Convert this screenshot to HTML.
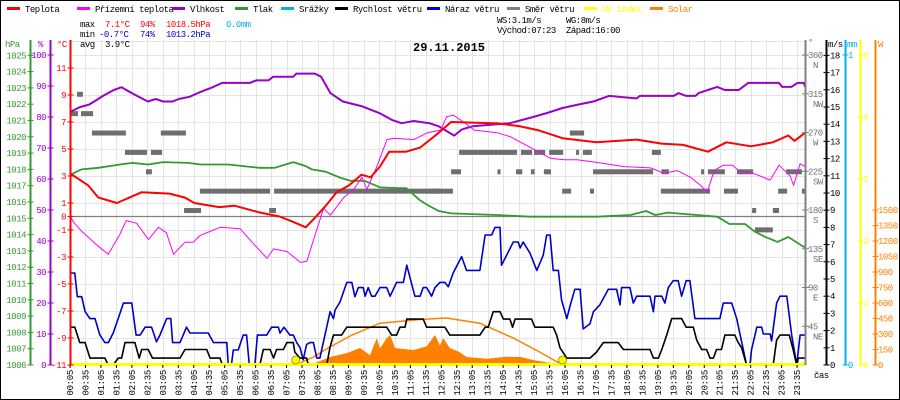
<!DOCTYPE html>
<html><head><meta charset="utf-8"><style>
html,body{margin:0;padding:0;background:#fff;}
svg{display:block;font-family:"Liberation Mono",monospace;}
</style></head><body>
<svg id="chart" width="900" height="400" viewBox="0 0 900 400" xmlns="http://www.w3.org/2000/svg"></svg>
<script>
// ---- data ----
const tempH=[0.08,0.67,1.0,1.6,2.4,3.3,3.8,4.1,4.9,5.4,6.2,6.85,7.3,7.7,8.0,8.35,8.7,9.1,9.5,9.8,10.1,10.4,10.95,11.4,12.0,12.4,13.9,14.6,15.2,16.0,17.1,18.4,19.2,19.9,20.7,21.3,22.1,22.8,23.3,23.5,23.95];
const tempV=[3.2,2.3,1.4,1.0,1.8,1.7,1.4,1.0,0.7,0.8,0.3,0.0,-0.4,-0.8,-0.1,0.8,1.8,2.3,3.1,2.9,3.7,4.8,4.8,5.1,6.2,7.0,6.9,6.7,6.4,5.8,5.5,5.7,5.4,5.3,4.8,5.5,5.2,5.5,6.0,5.6,6.2];
const appH=[0.08,0.19,0.46,0.94,1.32,1.7,1.9,2.24,2.62,2.94,3.2,3.43,3.8,4.07,4.29,4.94,5.58,5.85,6.45,6.66,7.1,7.53,7.74,7.96,8.28,8.5,8.93,9.25,9.52,9.68,10.0,10.33,10.55,11.2,11.63,12.06,12.26,12.48,12.8,13.15,13.9,14.33,14.97,15.62,16.05,16.48,17.13,17.99,18.85,19.28,19.71,20.14,20.46,20.68,20.9,21.2,21.5,21.74,22.17,22.71,23.0,23.36,23.47,23.68,23.9];
const appV=[0.1,-0.4,-1.1,-2.1,-2.8,-1.3,-0.3,-0.5,-1.7,-0.8,-1.2,-2.8,-1.9,-1.9,-1.4,-0.8,-0.9,-1.6,-3.1,-2.4,-2.6,-3.4,-3.3,-1.7,0.6,0.1,1.4,2.0,2.9,2.0,3.7,5.7,5.8,5.7,6.2,6.4,7.4,7.5,7.0,6.4,6.2,5.9,5.1,4.3,4.2,4.2,4.0,3.7,3.6,3.2,3.4,2.9,2.3,1.8,3.4,3.8,3.8,3.3,3.2,2.7,3.8,3.0,2.3,3.9,3.7];
const humH=[0.08,0.4,0.7,0.95,1.15,1.5,1.75,1.9,2.25,2.6,2.85,3.1,3.4,3.6,3.95,4.3,4.7,5.0,5.9,6.1,6.5,6.65,7.3,7.4,8.0,8.2,8.5,8.9,9.5,10.1,10.5,10.8,11.2,11.7,12.0,12.5,12.75,13.1,14.3,15.05,15.5,16.0,16.5,17.0,17.5,18.4,18.5,19.6,19.75,20.0,20.3,20.4,20.7,21.0,21.25,21.7,22.0,23.0,23.1,23.4,23.6,23.8,23.95];
const humV=[81.6,83.2,84,85.5,86.8,88.7,89.6,88.7,86.8,85,85.8,85,85,85.8,86.5,88.1,89.6,91,91,91.8,91.8,93,93,94,94,93,87.7,85,83.5,81.2,79,78,78.7,78,77,74,76,77,78,80,81.3,82.9,84,85,86.8,86,86.8,86.8,87.7,86.8,86.8,87.7,88.7,89.7,88.7,88.7,91,91,89.7,89.7,91,91,89.7];
const presH=[0.08,0.45,1.0,1.7,2.1,2.6,3.1,3.9,4.3,5.2,6.2,6.7,7.3,7.7,7.9,8.35,8.8,9.15,9.6,10.1,10.7,10.95,11.4,11.7,12.0,12.4,13.9,14.95,17.1,18.2,18.7,19.0,19.4,20.35,21.0,21.4,21.9,22.2,22.5,22.95,23.3,23.95];
const presV=[1017.66,1018.0,1018.1,1018.3,1018.4,1018.3,1018.45,1018.4,1018.3,1018.3,1018.1,1018.1,1018.45,1018.2,1018.0,1017.85,1017.5,1017.3,1017.3,1016.9,1016.85,1016.85,1016.1,1015.75,1015.45,1015.3,1015.2,1015.1,1015.1,1015.2,1015.45,1015.2,1015.35,1015.2,1015.1,1014.65,1014.65,1014.2,1013.9,1013.55,1013.85,1013.2];
const gustH=[0.08,0.24,0.32,0.46,0.57,0.73,0.89,1.05,1.21,1.32,1.48,1.64,1.81,2.08,2.22,2.35,2.51,2.72,2.88,2.99,3.21,3.34,3.4,3.64,3.85,3.96,4.55,4.72,5.15,5.2,5.3,5.36,5.52,5.68,5.79,5.88,6.06,6.14,6.44,6.6,6.82,6.87,7.0,7.19,7.3,7.41,7.52,7.62,7.73,7.84,7.95,8.06,8.16,8.27,8.49,8.6,8.65,8.81,9.03,9.19,9.29,9.4,9.56,9.62,9.72,9.83,9.94,10.1,10.32,10.43,10.64,10.86,10.97,11.07,11.23,11.4,11.5,11.61,11.77,11.88,12.04,12.2,12.31,12.47,12.74,12.9,13.33,13.5,13.71,13.82,13.98,14.03,14.2,14.41,14.57,14.63,14.73,14.95,15.17,15.38,15.49,15.6,15.7,15.87,15.97,16.14,16.24,16.4,16.57,16.67,16.89,17.0,17.21,17.48,17.75,17.86,17.91,18.18,18.29,18.4,18.83,18.94,18.99,19.21,19.31,19.42,19.58,19.74,19.85,20.0,20.12,20.28,21.09,21.2,21.47,21.63,21.74,21.95,22.06,22.11,22.28,22.44,22.49,22.71,22.76,22.92,23.03,23.25,23.41,23.57,23.68,23.84];
const gustV=[5.35,5.35,3.97,3.97,3.1,2.7,2.7,1.74,1.3,1.3,1.86,2.7,3.6,3.6,1.74,1.74,2.2,2.2,1.35,1.74,2.7,2.7,1.3,1.3,2.2,1.86,1.86,1.3,1.3,0,0,0.87,0.87,1.74,1.74,0,0,1.74,1.74,2.2,2.2,1.86,2.2,1.74,1.74,1.3,1.0,0.3,1.2,1.3,1.3,0.4,0.4,1.3,3.1,2.7,3.2,3.66,4.8,4.8,3.97,4.5,4.5,4.0,4.5,4.0,4.0,4.5,4.5,4.0,4.8,4.8,5.8,5.1,4.0,4.0,4.5,4.5,4.0,4.5,4.8,4.8,4.55,5.35,6.3,5.5,5.5,7.56,7.56,8.0,8.0,5.8,6.4,7.15,7.15,6.8,7.15,6.5,5.5,6.4,7.56,7.56,5.5,5.5,3.8,2.7,3.4,4.4,4.4,2.1,2.4,3.1,3.5,4.4,4.4,3.5,4.5,4.5,3.6,4.0,4.0,3.1,4.0,4.0,3.6,4.5,4.9,4.9,4.0,4.9,4.9,2.7,2.7,3.6,3.6,2.7,1.76,0,0,0.87,2.2,2.2,1.8,1.8,1.4,3.6,4.0,4.0,1.74,0,1.74,1.74];
const windH=[0.08,0.24,0.4,0.57,0.73,1.21,1.32,1.48,1.64,1.75,1.86,2.18,2.32,2.4,2.61,2.75,3.64,3.8,4.5,4.61,4.93,5.01,6.22,6.33,6.55,6.66,6.76,6.98,7.09,7.3,7.35,7.52,7.73,7.79,8.38,8.49,8.6,8.86,9.03,10.32,10.48,10.64,10.75,10.91,10.97,11.5,11.61,12.2,12.36,13.33,13.5,13.6,13.76,13.98,14.09,14.3,14.39,14.47,15.0,15.11,15.7,15.81,15.92,16.14,16.89,17.1,17.32,17.8,17.97,18.83,18.94,19.1,19.21,19.37,19.53,19.85,20.0,20.23,20.34,20.5,20.66,20.77,20.88,20.98,21.14,21.25,21.57,21.68,21.79,21.95,22.81,22.92,23.03,23.33,23.46,23.57,23.63,23.84];
const windV=[2.2,2.2,1.3,1.3,0.4,0.4,0,0,0.4,0.4,1.3,1.3,0.4,0.9,0.9,0.4,0.4,0.9,0.9,0.4,0.4,0,0,0.9,0.9,0.4,0.9,0.9,1.3,1.3,0.75,0.4,0.4,0,0,1.05,1.74,1.74,2.2,2.2,1.74,1.74,2.2,2.2,2.67,2.67,2.2,2.2,1.74,1.74,2.2,2.2,3.1,3.1,2.67,2.67,2.2,2.67,2.67,2.2,2.2,1.74,1.0,0.4,0.4,0.75,1.3,1.3,0.9,0.9,0.4,0.4,0.9,1.74,2.7,2.7,2.2,2.2,1.45,0.9,0.9,0.4,0.4,0.9,0.9,1.74,1.74,1.3,1.0,0,0,1.45,1.74,1.74,0.85,0,0.4,0.4];
const solarH=[7.84,8.49,9.03,9.46,9.78,10.0,10.1,10.32,10.43,10.59,11.18,11.61,11.88,12.04,12.15,12.36,12.68,12.9,13.55,14.2,14.63,15.06,15.7,16.14];
const solarV=[0,77,115,165,95,260,160,260,290,165,145,180,290,190,260,165,125,77,60,80,77,48,15,0];
const arcH=[7.38,7.95,8.49,9.2,10.1,11.4,12.25,13.33,14.41,15.27,16.0];
const arcV=[0,77,175,290,405,440,455,405,260,125,0];
const dirStart=[0.31,0.08,0.44,0.79,3.02,16.24,1.86,2.70,12.66,14.66,15.08,15.57,16.44,16.66,18.89,2.54,12.4,13.9,14.5,14.98,15.4,16.99,19.2,20.48,20.7,21.64,23.23,4.28,6.68,11.72,15.99,16.89,19.18,21.22,22.97,23.74,3.77,6.52,22.13,22.8,22.22];
const dirEnd=[0.50,0.34,0.83,1.89,3.83,16.7,2.57,3.06,14.53,15.02,15.44,16.02,16.5,16.95,19.18,2.73,12.72,14.0,14.7,15.1,15.63,18.93,19.44,20.57,21.25,22.16,23.74,6.55,12.04,12.46,16.28,17.02,20.77,21.67,23.26,24.0,4.32,6.74,22.26,23.0,22.8];
const dirVal=[315,292.5,292.5,270,270,270,247.5,247.5,247.5,247.5,247.5,247.5,247.5,247.5,247.5,225,225,225,225,225,225,225,225,225,225,225,225,202.5,202.5,202.5,202.5,202.5,202.5,202.5,202.5,202.5,180,180,180,180,157.5];
const hpaTicks=[1006,1007,1008,1009,1010,1011,1012,1013,1014,1015,1016,1017,1018,1019,1020,1021,1022,1023,1024,1025];
const humTicks=[0,10,20,30,40,50,60,70,80,90,100];
const tempTicks=[11,9,7,5,3,1,0,-1,-3,-5,-7,-9,-11];
const dirTicks=[360,315,270,225,180,135,90,45];
const dirNames=["N","NW","W","SW","S","SE","E","NE"];
const msTicks=[0,1,2,3,4,5,6,7,8,9,10,11,12,13,14,15,16,17,18];
const uvTicks=[0,1,2,3,4,5];
const wTicks=[0,150,300,450,600,750,900,1050,1200,1350,1500];
const timeLabels=[];
for(let i=0;i<48;i++){const m=5+30*i;timeLabels.push(String(Math.floor(m/60)).padStart(2,'0')+':'+String(m%60).padStart(2,'0'));}

// ---- scales ----
const X=h=>70+(h-5/60)*30.94;
const YT=t=>365-(t+11)*13.5;
const YH=v=>365-v*3.1;
const YP=p=>365-(p-1006)*16.3;
const YW=v=>365-v*17.2;
const YS=w=>365-w*0.1033;
const YD=d=>365-d*0.861;
const YUV=u=>365-u*62;

const svg=document.getElementById('chart');
const NS='http://www.w3.org/2000/svg';
function mk(tag,attrs,parent){const e=document.createElementNS(NS,tag);for(const k in attrs)e.setAttribute(k,attrs[k]);(parent||svg).appendChild(e);return e;}
function txt(x,y,s,fill,extra){const e=mk('text',Object.assign({x:x,y:y,fill:fill||'#000','font-size':9,'letter-spacing':'-0.5'},extra||{}));e.textContent=s;return e;}

mk('rect',{x:0,y:0,width:900,height:400,fill:'#fff'});

// grid
const grid=mk('g',{stroke:'#e4e4e4','stroke-width':1});


for(let i=0;i<48;i++){const x=Math.round(70+i*15.47)+0.5;mk('line',{x1:x,y1:40,x2:x,y2:365},grid);}
[13,11,9,7,5,3,1,-1,-3,-5,-7,-9].forEach(t=>{const y=Math.round(YT(t))+0.5;mk('line',{x1:70,y1:y,x2:805,y2:y},grid);});
mk('line',{x1:70,y1:55.5,x2:805,y2:55.5},grid);
const zl=mk('line',{x1:70,y1:216.5,x2:805,y2:216.5,stroke:'#808080','stroke-width':1.2});



// wind direction blocks
const dg=mk('g',{fill:'#6e6e6e'});


for(let i=0;i<dirVal.length;i++){
  const x1=Math.max(70,X(dirStart[i])),x2=Math.min(805,X(dirEnd[i]));
  const r=mk('rect',{x:x1,y:YD(dirVal[i])-2,width:Math.max(3,x2-x1),height:5},dg);
  
  
}

// solar
function pts(H,V,fy){return H.map((h,i)=>Math.min(805,Math.max(70,X(h))).toFixed(1)+','+fy(V[i]).toFixed(1)).join(' ');}
const sa=mk('polygon',{points:X(solarH[0]).toFixed(1)+',365 '+pts(solarH,solarV,YS)+' '+X(solarH[solarH.length-1]).toFixed(1)+',365',fill:'#ff8000'});


const sc=mk('polyline',{points:pts(arcH,arcV,YS),fill:'none',stroke:'#ff8000','stroke-width':1.5});



function series(name,H,V,fy,color,w){const p=mk('polyline',{points:pts(H,V,fy),fill:'none',stroke:color,'stroke-width':w,'stroke-linejoin':'round'});
  
  
  return p;}
series('pressure-line',presH,presV,YP,'#339933',1.8);
series('humidity-line',humH,humV,YH,'#9900cc',2);
series('apparent-temperature-line',appH,appV,YT,'#ff00ff',1);
series('temperature-line',tempH,tempV,YT,'#ff0000',2);
series('wind-gust-line',gustH,gustV,YW,'#0000cc',1.6);
series('wind-speed-line',windH,windV,YW,'#000000',1.6);

// uv baseline
const uvb=mk('line',{x1:70,y1:364.5,x2:805,y2:364.5,stroke:'#ffff00','stroke-width':3});


[7.38,16.0].forEach((h,i)=>{const c=mk('circle',{cx:X(h),cy:360,r:4,fill:'#ffff00',stroke:'#888800','stroke-width':0.8});
  
  });

// left axes
function axis(name,x,color,ticks,fy,labelX,anchor,fmt){
  const g=mk('g',{});
  
  
  mk('line',{x1:x,y1:40,x2:x,y2:365,stroke:color,'stroke-width':2},g);
  ticks.forEach((t,i)=>{const y=fy(t);mk('line',{x1:x-3,y1:y,x2:x+3,y2:y,stroke:color,'stroke-width':1},g);
    const e=txt(labelX,y+3,fmt?fmt(t,i):String(t),color,{'text-anchor':anchor});g.appendChild(e);});
  return g;}
axis('pressure-axis',30.5,'#339933',hpaTicks,YP,26,'end');
axis('humidity-axis',50.5,'#9900cc',humTicks,YH,46,'end');
axis('temperature-axis',70.5,'#ff0000',tempTicks,YT,66,'end');
txt(5,47,'hPa','#339933');txt(38,47,'%','#9900cc');txt(57,47,'°C','#ff0000');

// right axes
const dgx=mk('g',{});


mk('line',{x1:805.5,y1:40,x2:805.5,y2:365,stroke:'#808080','stroke-width':2},dgx);
dirTicks.forEach((d,i)=>{const y=YD(d);mk('line',{x1:802,y1:y,x2:809,y2:y,stroke:'#808080'},dgx);
  dgx.appendChild(txt(808,y+3,String(d),'#707070'));dgx.appendChild(txt(813,y+13,dirNames[i],'#707070'));});
txt(808,45,'°','#707070');
axis('wind-speed-axis',826.5,'#000000',msTicks,YW,830,'start');
txt(828,47,'m/s','#000');
axis('rain-axis',845.5,'#00b0f0',[0,1],v=>365-v*310,848,'start');
txt(847,47,'mm','#00b0f0');
axis('uv-axis',860.5,'#ffff00',uvTicks,YUV,863,'start');
axis('solar-axis',875.5,'#ff8000',wTicks,YS,878,'start');
txt(878,47,'W','#ff8000');

// x labels
const xl=mk('g',{});


timeLabels.forEach((s,i)=>{const x=70+i*15.47+3;const e=txt(x,370,s,'#000',{'text-anchor':'end',transform:'rotate(-90 '+x+' 370)','letter-spacing':'-0.3'});xl.appendChild(e);
  mk('line',{x1:x-3,y1:365,x2:x-3,y2:368,stroke:'#000'},xl);});
txt(814,378,'čas','#000');

// legend
const legend=[['Teplota','#ff0000',7],['Přízemní teplota','#ff00ff',77],['Vlhkost','#9900cc',172],['Tlak','#339933',235],['Srážky','#00b0f0',281],['Rychlost větru','#000000',335],['Náraz větru','#0000cc',427],['Směr větru','#808080',507],['UV index','#ffff00',584],['Solar','#ff8000',650]];
legend.forEach(l=>{const g=mk('g',{});
  
  
  mk('rect',{x:l[2],y:7,width:13,height:3,fill:l[1]},g);
  const isUV=l[1]==='#ffff00'||l[1]==='#ff8000';
  g.appendChild(txt(l[2]+18,12,l[0],isUV?l[1]:'#000'));});

// stats
const st=mk('g',{});


[[80,27,'max','#000'],[105,27,'7.1°C','#ff0000'],[140,27,'94%','#ff0000'],[166,27,'1018.5hPa','#ff0000'],[226,27,'0.0mm','#00b0f0'],
 [80,37,'min','#000'],[99,37,'-0.7°C','#0000cc'],[140,37,'74%','#0000cc'],[166,37,'1013.2hPa','#0000cc'],
 [80,47,'avg','#000'],[105,47,'3.9°C','#000'],
 [497,23,'WS:3.1m/s','#000'],[566,23,'WG:8m/s','#000'],[497,33,'Východ:07:23','#000'],[566,33,'Západ:16:00','#000']].forEach(a=>st.appendChild(txt(a[0],a[1],a[2],a[3])));
const title=txt(413,51,'29.11.2015','#000',{'font-size':12,'font-weight':'bold','letter-spacing':'0'});



mk('rect',{x:0.5,y:0.5,width:899,height:399,fill:'none',stroke:'#000','stroke-width':1});
</script>
</body></html>
